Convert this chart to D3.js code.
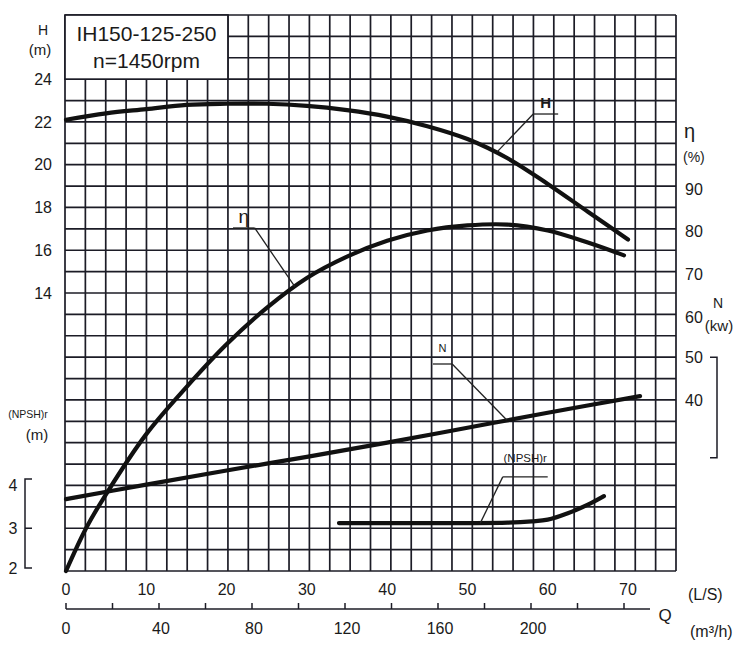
<!DOCTYPE html>
<html>
<head>
<meta charset="utf-8">
<script src="https://cdnjs.cloudflare.com/ajax/libs/d3/7.8.5/d3.min.js"></script>
<style>
  body { margin: 0; background: #fff; }
  text { font-family: "Liberation Sans", Arial, sans-serif; fill: #1a1a1a; }
</style>
</head>
<body>
<script>
// pump curve data (Q in L/s)
var headQ = [0, 5, 10, 15, 20, 25, 30, 35, 40, 45, 50, 55, 60, 65, 70];
var headH = [22.1, 22.4, 22.6, 22.8, 22.85, 22.85, 22.75, 22.55, 22.25, 21.8, 21.2, 20.3, 19.1, 17.8, 16.5];

var effQ = [0, 2.5, 5, 10, 15, 20, 25, 30, 35, 40, 45, 50, 55, 60, 65, 69.5];
var effVal = [0, 10, 18, 32, 43, 53, 61.5, 68.5, 73.5, 77.2, 79.6, 80.8, 81.0, 79.6, 76.8, 73.8];

var powerQ = [0, 10, 20, 30, 40, 50, 60, 71.5];
var powerN = [16.8, 20.2, 23.5, 26.7, 30.0, 33.5, 37.0, 40.9];

var npshQ = [34, 40, 45, 50, 55, 58, 60, 62.5, 65, 67];
var npshVal = [3.12, 3.12, 3.12, 3.12, 3.13, 3.16, 3.2, 3.35, 3.55, 3.75];

// tick labels
var hTicks = [24, 22, 20, 18, 16, 14];
var effTicks = [90, 80, 70, 60];
var powTicks = [50, 40];
var npshTicks = [4, 3, 2];
var lsTicks = [0, 10, 20, 30, 40, 50, 60, 70];
var m3hTicks = d3.range(0, 241, 20);
var m3hLabels = [0, 40, 80, 120, 160, 200];
var powBracket = [50, 26.5];
var npshBracket = [4.15, 2.07];

function main(){
    var width = 750, height = 662;
    var gridCols = 30, gridRows = 26;

    var svg = d3.select("body")
                .append("svg")
                .attr("width", width)
                .attr("height", height);

    var gridX = d3.scaleLinear().domain([0, gridCols]).range([65, 676]);
    var xLs = d3.scaleLinear().domain([0, 70]).range([66, 628]);
    var xM3h = d3.scaleLinear().domain([0, 240]).range([66, 624]);
    var yH = d3.scaleLinear().domain([27 - gridRows, 27]).range([571, 15]);
    var yEff = d3.scaleLinear().domain([0, 130]).range([571, 15]);
    var yPow = d3.scaleLinear().domain([0, 130]).range([571, 15]);
    var yNpsh = d3.scaleLinear().domain([2, 15]).range([571, 15]);

    var ink = "#1c1c26";

    // grid paper
    var grid = svg.append("g").attr("stroke", ink).attr("stroke-width", 1.7);
    grid.selectAll("line.v")
        .data(d3.range(gridCols + 1))
        .enter().append("line")
        .attr("x1", function(d){ return gridX(d); })
        .attr("x2", function(d){ return gridX(d); })
        .attr("y1", yH(27)).attr("y2", yH(1));
    grid.selectAll("line.h")
        .data(d3.range(1, 28))
        .enter().append("line")
        .attr("y1", function(d){ return yH(d); })
        .attr("y2", function(d){ return yH(d); })
        .attr("x1", gridX(0)).attr("x2", gridX(gridCols));

    // title box
    svg.append("rect")
        .attr("x", gridX(0)).attr("y", yH(27))
        .attr("width", gridX(8) - gridX(0)).attr("height", yH(24) - yH(27))
        .attr("fill", "#fff").attr("stroke", ink).attr("stroke-width", 1.7);
    svg.append("text").attr("x", (gridX(0) + gridX(8)) / 2).attr("y", 41)
        .attr("text-anchor", "middle").attr("font-size", 21).text("IH150-125-250");
    svg.append("text").attr("x", (gridX(0) + gridX(8)) / 2).attr("y", 68)
        .attr("text-anchor", "middle").attr("font-size", 21).text("n=1450rpm");

    // curves
    function drawCurve(qs, vals, yScale){
        var pts = qs.map(function(q, i){ return [xLs(q), yScale(vals[i])]; });
        svg.append("path")
            .attr("d", d3.line().curve(d3.curveCatmullRom.alpha(0.5))(pts))
            .attr("fill", "none").attr("stroke", "#111")
            .attr("stroke-width", 4.2).attr("stroke-linecap", "round");
    }
    drawCurve(headQ, headH, yH);
    drawCurve(effQ, effVal, yEff);
    drawCurve(powerQ, powerN, yPow);
    drawCurve(npshQ, npshVal, yNpsh);

    // leader labels on the curves
    var notes = [
        {text: "H", size: 15, weight: "bold", q: 53.7, v: 20.6, y: yH, u0: 58.2, u1: 61.3, uv: 22.37, join: 0, dy: -6},
        {text: "\u03b7", size: 19, weight: "normal", q: 28.5, v: 66.5, y: yEff, u0: 20.8, u1: 23.5, uv: 80.2, join: 1, dy: -5},
        {text: "N", size: 11, weight: "normal", q: 54.9, v: 35.3, y: yPow, u0: 45.7, u1: 48.1, uv: 48.4, join: 1, dy: -12},
        {text: "(NPSH)r", size: 11.5, weight: "normal", q: 51.6, v: 3.12, y: yNpsh, u0: 54.4, u1: 60, uv: 4.2, join: 0, dy: -15}
    ];
    var note = svg.selectAll("g.note").data(notes).enter().append("g");
    note.append("line")
        .attr("x1", function(d){ return xLs(d.u0); })
        .attr("x2", function(d){ return xLs(d.u1); })
        .attr("y1", function(d){ return d.y(d.uv); })
        .attr("y2", function(d){ return d.y(d.uv); })
        .attr("stroke", "#222").attr("stroke-width", 1.3);
    note.append("line")
        .attr("x1", function(d){ return xLs(d.join ? d.u1 : d.u0); })
        .attr("y1", function(d){ return d.y(d.uv); })
        .attr("x2", function(d){ return xLs(d.q); })
        .attr("y2", function(d){ return d.y(d.v); })
        .attr("stroke", "#222").attr("stroke-width", 1.3);
    note.append("text")
        .attr("x", function(d){ return (xLs(d.u0) + xLs(d.u1)) / 2; })
        .attr("y", function(d){ return d.y(d.uv) + d.dy; })
        .attr("text-anchor", "middle")
        .attr("font-size", function(d){ return d.size; })
        .attr("font-weight", function(d){ return d.weight; })
        .text(function(d){ return d.text; });

    // left axis: H
    svg.selectAll("text.h").data(hTicks).enter().append("text")
        .attr("x", 52).attr("y", function(d){ return yH(d); }).attr("dy", "0.35em")
        .attr("text-anchor", "end").attr("font-size", 16).text(function(d){ return d; });
    svg.append("text").attr("x", 43).attr("y", 35).attr("text-anchor", "middle").attr("font-size", 14).text("H");
    svg.append("text").attr("x", 40).attr("y", 55).attr("text-anchor", "middle").attr("font-size", 15).text("(m)");

    // left axis: NPSH
    svg.append("text").attr("x", 28).attr("y", 418).attr("text-anchor", "middle").attr("font-size", 10.5).text("(NPSH)r");
    svg.append("text").attr("x", 37).attr("y", 440).attr("text-anchor", "middle").attr("font-size", 15).text("(m)");
    svg.selectAll("text.np").data(npshTicks).enter().append("text")
        .attr("x", 13).attr("y", function(d){ return yNpsh(d) - (d === 2 ? 3 : 0); }).attr("dy", "0.35em")
        .attr("text-anchor", "middle").attr("font-size", 16).text(function(d){ return d; });
    var nb = svg.append("g").attr("stroke", ink).attr("stroke-width", 1.5).attr("fill", "none");
    nb.append("path").attr("d",
        "M32," + yNpsh(npshBracket[0]) + "H25V" + yNpsh(npshBracket[1]) + "H32");
    nb.append("line").attr("x1", 25).attr("x2", 32)
        .attr("y1", yNpsh(3)).attr("y2", yNpsh(3));

    // right axis: eta and N
    svg.append("text").attr("x", 684).attr("y", 138).attr("font-size", 20).text("\u03b7");
    svg.append("text").attr("x", 683).attr("y", 162).attr("font-size", 14).text("(%)");
    svg.selectAll("text.eff").data(effTicks).enter().append("text")
        .attr("x", 685).attr("y", function(d){ return yEff(d) + 3; }).attr("dy", "0.35em")
        .attr("font-size", 16).text(function(d){ return d; });
    svg.selectAll("text.pow").data(powTicks).enter().append("text")
        .attr("x", 685).attr("y", function(d){ return yPow(d); }).attr("dy", "0.35em")
        .attr("font-size", 16).text(function(d){ return d; });
    svg.append("text").attr("x", 718).attr("y", 308).attr("text-anchor", "middle").attr("font-size", 14).text("N");
    svg.append("text").attr("x", 719).attr("y", 331).attr("text-anchor", "middle").attr("font-size", 15).text("(kw)");
    svg.append("path")
        .attr("d", "M710," + yPow(powBracket[0]) + "H717V" + yPow(powBracket[1]) + "H710")
        .attr("stroke", ink).attr("stroke-width", 1.5).attr("fill", "none");

    // bottom: Q in L/s
    svg.selectAll("text.ls").data(lsTicks).enter().append("text")
        .attr("x", function(d){ return xLs(d); }).attr("y", 595)
        .attr("text-anchor", "middle").attr("font-size", 16).text(function(d){ return d; });
    svg.append("text").attr("x", 688).attr("y", 600).attr("font-size", 16).text("(L/S)");

    // bottom: Q in m3/h
    var axisY = 609;
    svg.append("line").attr("x1", xM3h(0)).attr("x2", 650)
        .attr("y1", axisY).attr("y2", axisY).attr("stroke", ink).attr("stroke-width", 1.5);
    svg.selectAll("line.m3").data(m3hTicks).enter().append("line")
        .attr("x1", function(d){ return xM3h(d); }).attr("x2", function(d){ return xM3h(d); })
        .attr("y1", axisY).attr("y2", axisY - 6).attr("stroke", ink).attr("stroke-width", 1.5);
    svg.selectAll("text.m3").data(m3hLabels).enter().append("text")
        .attr("x", function(d){ return xM3h(d) + (d === 0 ? 0 : 2); }).attr("y", 634)
        .attr("text-anchor", "middle").attr("font-size", 16).text(function(d){ return d; });
    svg.append("text").attr("x", 665).attr("y", 621).attr("text-anchor", "middle").attr("font-size", 17).text("Q");
    svg.append("text").attr("x", 690).attr("y", 637).attr("font-size", 16).text("(m\u00b3/h)");
}
main();
</script>
</body>
</html>
